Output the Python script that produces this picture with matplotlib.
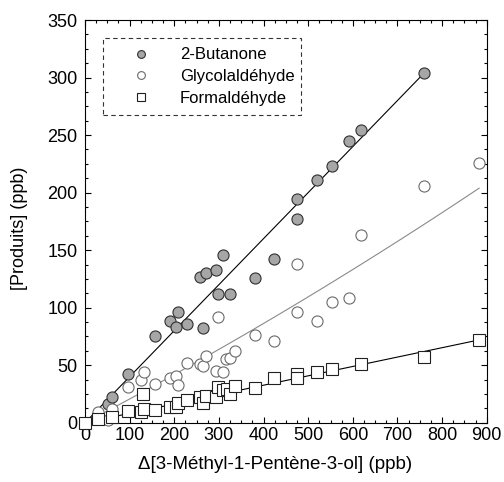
import numpy as np
import matplotlib
matplotlib.use('Agg')
import matplotlib.pyplot as plt
from matplotlib.ticker import MultipleLocator

plt.rcParams['font.family'] = ['Liberation Sans', 'DejaVu Sans']

# 2-Butanone
but_x = [0, 28, 51, 61, 96, 156, 191, 204, 209, 229, 257, 265, 270, 293, 298,
         309, 324, 381, 424, 474, 474, 519, 554, 591, 618, 760]
but_y = [0, 5, 16, 22, 42, 75, 88, 83, 96, 86, 127, 82, 130, 133, 112,
         146, 112, 126, 142, 194, 177, 211, 223, 245, 254, 304]

# Glycolaldehyde
gly_x = [0, 28, 51, 61, 96, 126, 133, 156, 191, 204, 209, 229, 257, 265, 270,
         293, 298, 309, 316, 324, 336, 381, 424, 474, 474, 519, 554, 591, 618,
         760, 883]
gly_y = [0, 9, 2, 12, 31, 37, 44, 34, 39, 41, 33, 52, 51, 49, 58,
         45, 92, 44, 55, 56, 62, 76, 71, 96, 138, 88, 105, 108, 163,
         206, 226]

# Formaldehyde
form_x = [0, 28, 61, 96, 126, 131, 133, 156, 191, 204, 209, 229, 257, 265, 270,
          293, 298, 309, 319, 325, 336, 381, 424, 474, 474, 519, 554, 618,
          760, 883]
form_y = [0, 3, 5, 10, 9, 25, 12, 11, 14, 14, 17, 20, 22, 17, 23,
          22, 31, 28, 29, 25, 32, 30, 39, 42, 39, 44, 47, 51,
          57, 72]

# fitted curves (polynomial coefficients, highest first)
but_fit = [0.4, 0.0]
gly_fit = [3.14e-5, 0.2031, 0.0]
form_fit = [0.0815, 0.0]

fig = plt.figure(figsize=(5.04, 4.82), dpi=100)
ax = fig.add_axes([0.1687, 0.123, 0.7970, 0.8355])

FS = 13
LFS = 12

xb = np.linspace(0, max(but_x), 100)
ax.plot(xb, np.polyval(but_fit, xb), color='black', lw=0.8, zorder=1)
xg = np.linspace(0, max(gly_x), 100)
ax.plot(xg, np.polyval(gly_fit, xg), color='#8a8a8a', lw=0.8, zorder=1)
xf = np.linspace(0, max(form_x), 100)
ax.plot(xf, np.polyval(form_fit, xf), color='black', lw=0.8, zorder=1)

ax.plot(but_x, but_y, 'o', ms=8, mfc='#a6a6a6', mec='#303030', mew=0.8,
        ls='none', label='2-Butanone', zorder=3, clip_on=False)
ax.plot(gly_x, gly_y, 'o', ms=8, mfc='white', mec='#6a6a6a', mew=0.8,
        ls='none', label='Glycolaldéhyde', zorder=4, clip_on=False)
ax.plot(form_x, form_y, 's', ms=8, mfc='white', mec='#202020', mew=0.8,
        ls='none', label='Formaldéhyde', zorder=5, clip_on=False)

ax.set_xlim(0, 900)
ax.set_ylim(0, 350)
ax.xaxis.set_major_locator(MultipleLocator(100))
ax.xaxis.set_minor_locator(MultipleLocator(25))
ax.yaxis.set_major_locator(MultipleLocator(50))
ax.yaxis.set_minor_locator(MultipleLocator(12.5))
ax.tick_params(which='both', direction='in', top=True, right=True,
               labelsize=FS, width=0.8)
ax.tick_params(which='major', length=4.5)
ax.tick_params(which='minor', length=2.5)
ax.tick_params(axis='x', pad=3)
ax.tick_params(axis='y', pad=5.5)
for s in ax.spines.values():
    s.set_linewidth(0.8)

ax.set_xlabel('Δ[3-Méthyl-1-Pentène-3-ol] (ppb)', fontsize=13.5)
ax.set_ylabel('[Produits] (ppb)', fontsize=FS)
ax.xaxis.set_label_coords(0.473, -0.083)
ax.yaxis.set_label_coords(-0.142, 0.483)

leg = ax.legend(loc='upper left', bbox_to_anchor=(0.0456, 0.7656, 0.492, 0.189),
                mode='expand', borderaxespad=0, fontsize=LFS, markerscale=0.7,
                handlelength=3.45, handletextpad=0.59, borderpad=0.55,
                labelspacing=0.4, fancybox=False, frameon=True)
fr = leg.get_frame()
fr.set_edgecolor('black')
fr.set_linestyle((0, (4, 3)))
fr.set_linewidth(0.8)

fig.savefig('out.png', dpi=100)
